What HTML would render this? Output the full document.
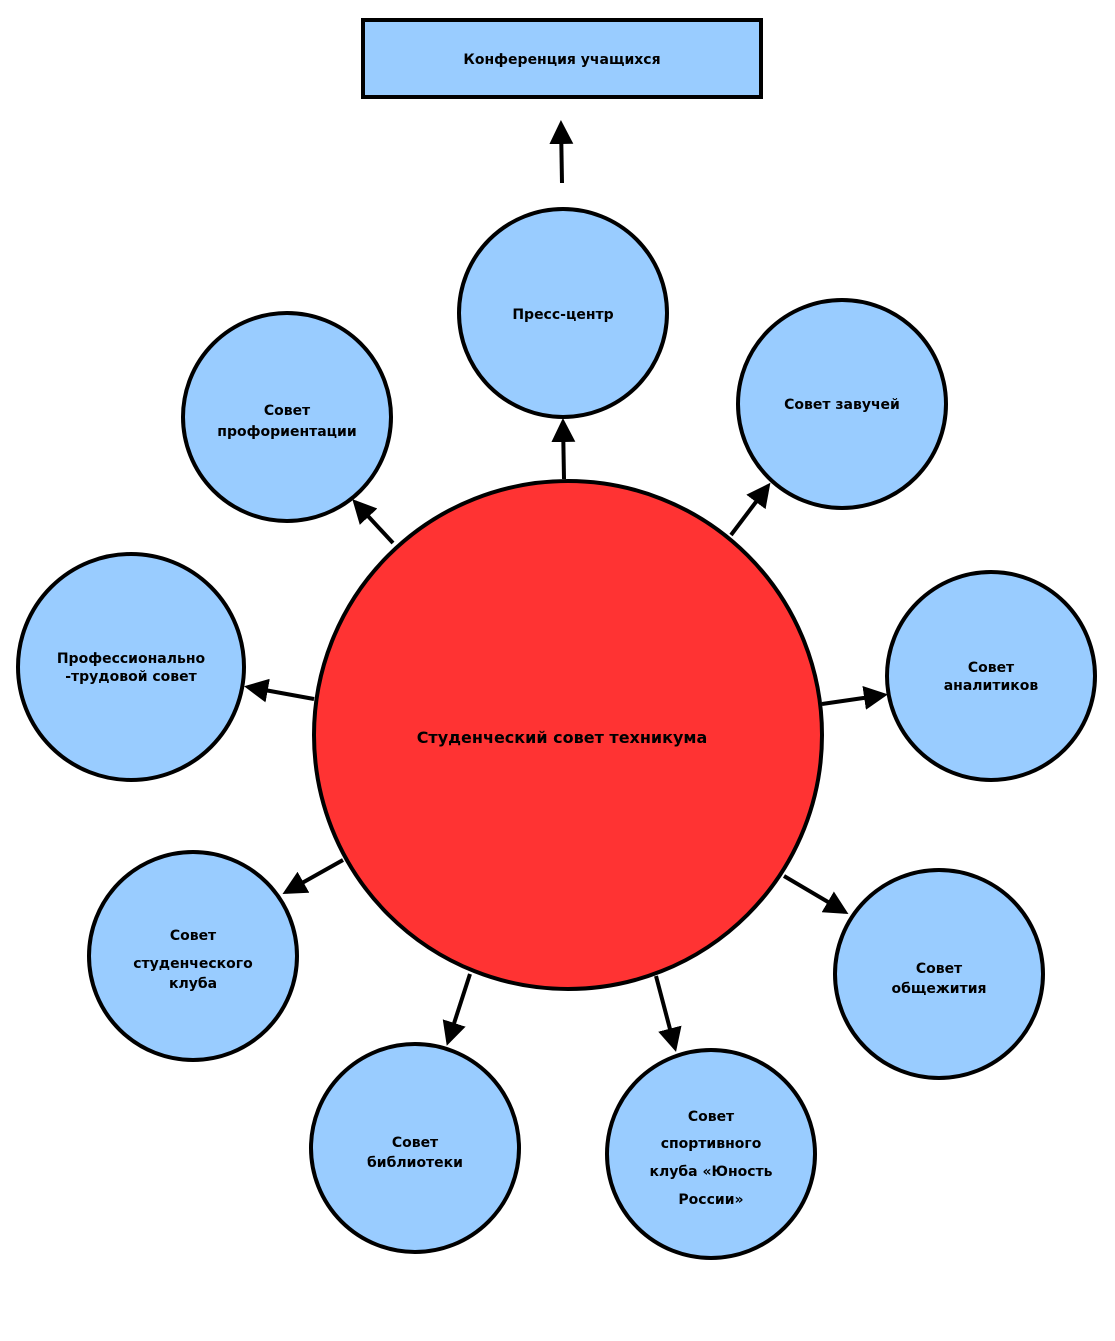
<!DOCTYPE html>
<html><head><meta charset="utf-8"><style>
html,body{margin:0;padding:0;background:#fff;}
svg text{font-family:"DejaVu Sans","Liberation Sans",sans-serif;font-size:14px;text-anchor:middle;fill:#000;font-weight:600;}
</style></head><body>
<svg width="1115" height="1336" viewBox="0 0 1115 1336" xmlns="http://www.w3.org/2000/svg">
<defs>
<marker id="a" markerWidth="6" markerHeight="6" refX="5" refY="3" orient="auto" markerUnits="strokeWidth">
<path d="M0,0 L6,3 L0,6 z" fill="#000"/></marker>
</defs>
<rect x="363" y="20" width="398" height="77" fill="#99ccff" stroke="#000" stroke-width="4"/>
<text x="562" y="64">Конференция учащихся</text>
<g stroke="#000" stroke-width="4" marker-end="url(#a)">
<line x1="562" y1="183" x2="561" y2="124"/>
<line x1="564" y1="479" x2="563" y2="422"/>
<line x1="731" y1="535" x2="768" y2="486"/>
<line x1="393" y1="543" x2="355" y2="502"/>
<line x1="314" y1="699" x2="248" y2="687"/>
<line x1="822" y1="704" x2="884" y2="695"/>
<line x1="343" y1="860" x2="286" y2="892"/>
<line x1="784" y1="876" x2="845" y2="912"/>
<line x1="470" y1="974" x2="448" y2="1042"/>
<line x1="656" y1="976" x2="675" y2="1048"/>
</g>
<g fill="#99ccff" stroke="#000" stroke-width="4">
<circle cx="563" cy="313" r="104"/>
<circle cx="842" cy="404" r="104"/>
<circle cx="287" cy="417" r="104"/>
<circle cx="131" cy="667" r="113"/>
<circle cx="991" cy="676" r="104"/>
<circle cx="193" cy="956" r="104"/>
<circle cx="939" cy="974" r="104"/>
<circle cx="415" cy="1148" r="104"/>
<circle cx="711" cy="1154" r="104"/>
</g>
<circle cx="568" cy="735" r="254" fill="#ff3333" stroke="#000" stroke-width="4"/>
<text x="562" y="743" style="font-size:16px">Студенческий совет техникума</text>
<text x="563" y="319">Пресс-центр</text>
<text x="842" y="409">Совет завучей</text>
<text x="287" y="415">Совет</text>
<text x="287" y="436">профориентации</text>
<text x="131" y="663">Профессионально</text>
<text x="131" y="681">-трудовой совет</text>
<text x="991" y="672">Совет</text>
<text x="991" y="690">аналитиков</text>
<text x="193" y="940">Совет</text>
<text x="193" y="968">студенческого</text>
<text x="193" y="988">клуба</text>
<text x="939" y="973">Совет</text>
<text x="939" y="993">общежития</text>
<text x="415" y="1147">Совет</text>
<text x="415" y="1167">библиотеки</text>
<text x="711" y="1121">Совет</text>
<text x="711" y="1148">спортивного</text>
<text x="711" y="1176">клуба «Юность</text>
<text x="711" y="1204">России»</text>
</svg>
</body></html>
